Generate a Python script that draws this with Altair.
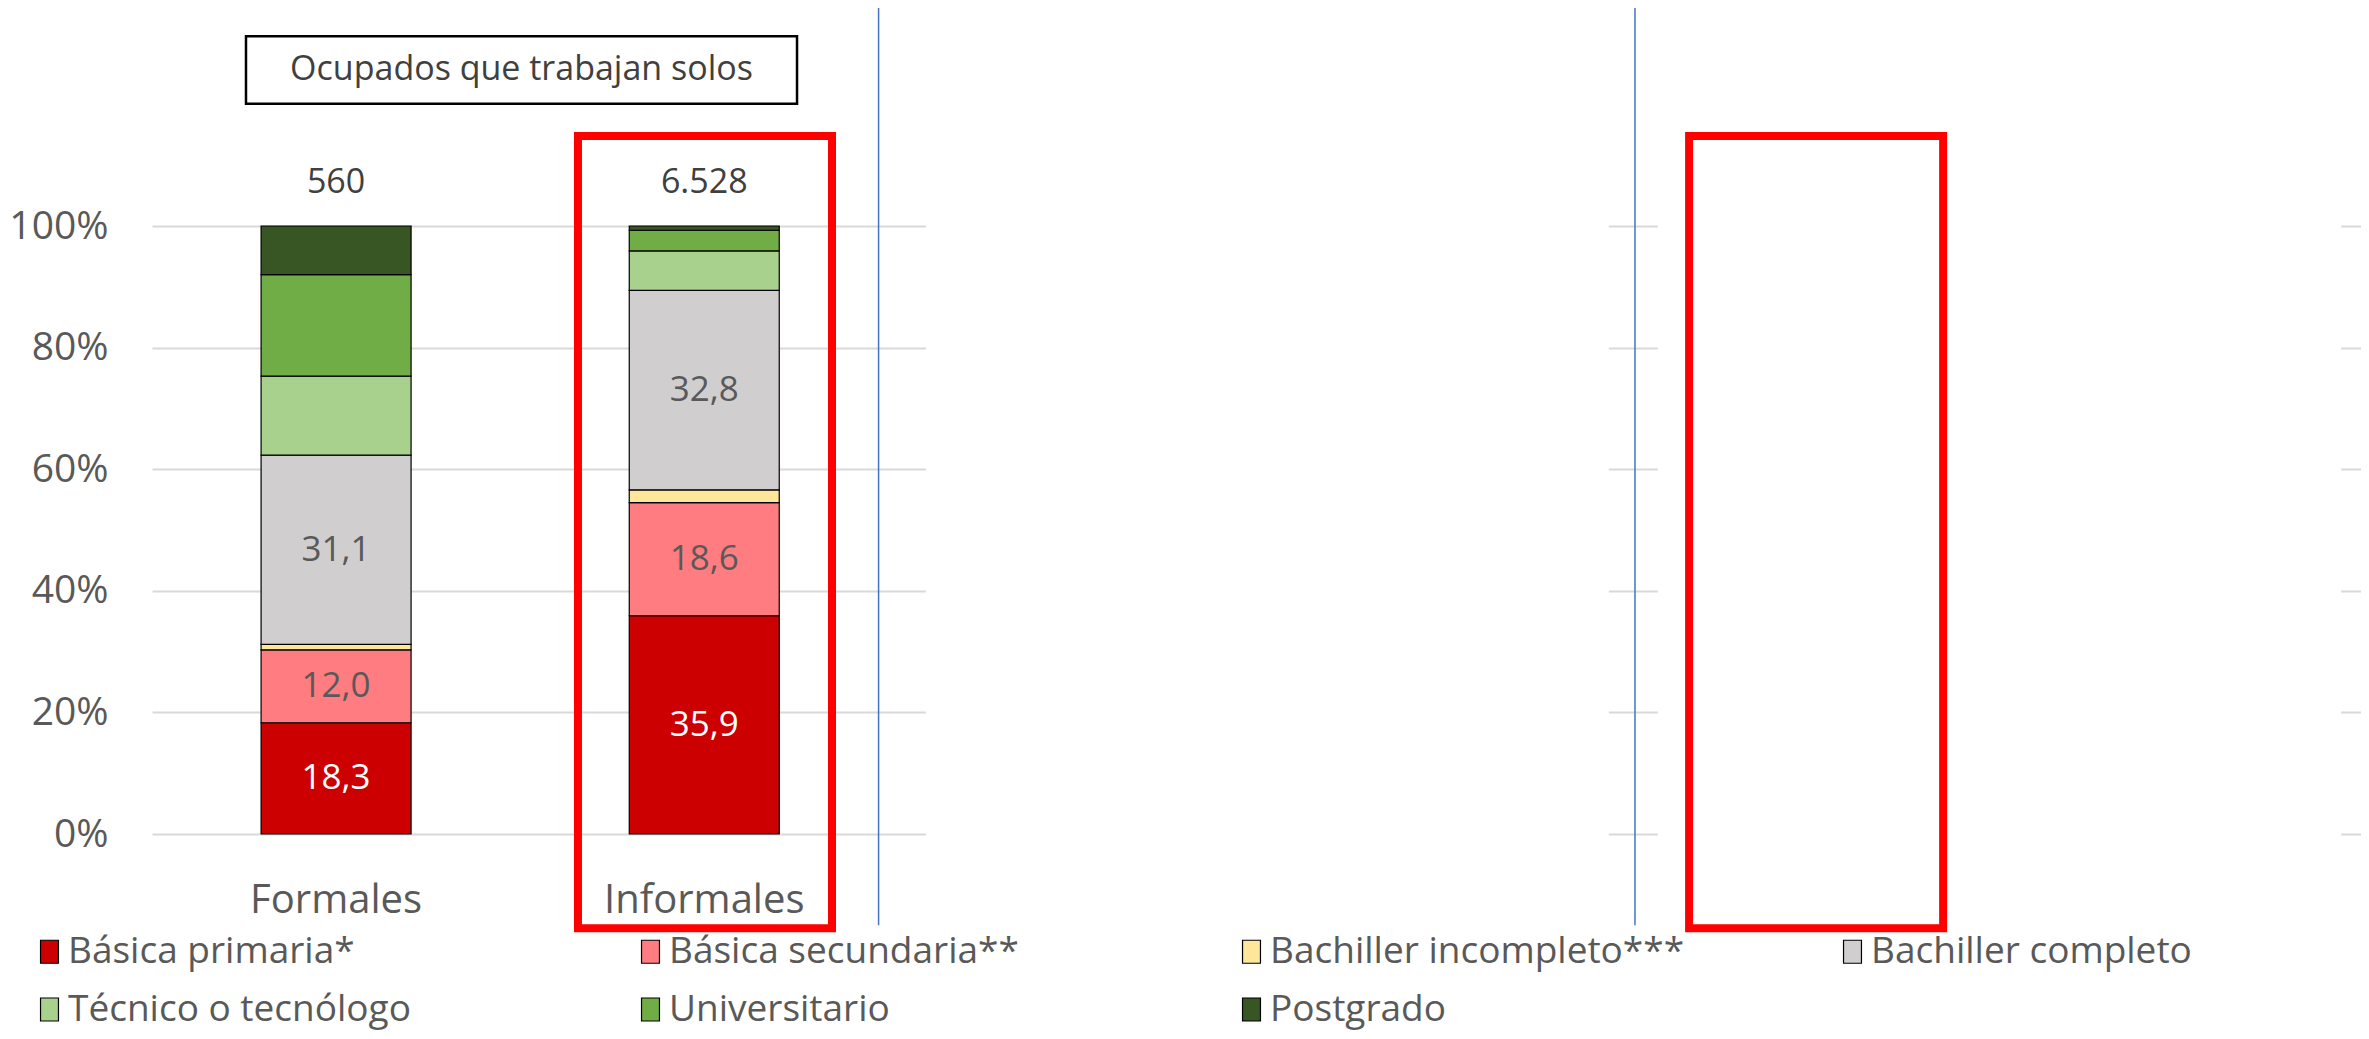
import altair as alt
import pandas as pd

FONT = "Open Sans"

# ---------------- data ----------------
grupos = ["Formales", "Informales"]
ranuras = grupos + ["_3", "_4", "_5", "_6"]          # hidden panels of the original sheet
niveles = ["Básica primaria*", "Básica secundaria**", "Bachiller incompleto***",
           "Bachiller completo", "Técnico o tecnólogo", "Universitario", "Postgrado"]
colores = ["#CC0000", "#FF7C80", "#FFE699", "#D0CECE", "#A9D18E", "#70AD47", "#375623"]
formales = [18.3, 12.0, 0.9, 31.1, 13.0, 16.7, 8.0]
informales = [35.9, 18.6, 2.1, 32.8, 6.5, 3.4, 0.7]
totales = [560, 6528]
rotulados = ["Básica primaria*", "Básica secundaria**", "Bachiller completo"]
titulo = "Ocupados que trabajan solos"
ticks_y = [0, 20, 40, 60, 80, 100]

# annotation extents (x in panel-slot units 0..6, y in %)
caja_titulo_x = [0.2553, 1.752]
caja_titulo_y = [120.1, 131.2]
recuadro_x1 = [1.157, 4.175]
recuadro_x2 = [1.847, 4.865]
recuadro_y = [-15.5, 114.8]
separador_x = [1.9735, 4.028]
separador_y = [-15.0, 136.3]
tapa_x1 = [2.102, 4.090]
tapa_x2 = [3.957, 5.946]
tapa_y = [-3, 103]
y_totales = 107

# ---------------- tables ----------------
rows = []
for g, vals in zip(grupos, [formales, informales]):
    acc = 0.0
    for i, (n, v) in enumerate(zip(niveles, vals)):
        rows.append(dict(grupo=g, nivel=n, orden=i, valor=v, y0=acc, y1=acc + v,
                         ymid=acc + v / 2,
                         etiqueta=(f"{v:.1f}".replace(".", ",") if n in rotulados else "")))
        acc += v
df = pd.DataFrame(rows)

df_tot = pd.DataFrame({"grupo": grupos,
                       "txt": [f"{t:,}".replace(",", ".") for t in totales]})
df_caja = pd.DataFrame({"x1": [caja_titulo_x[0]], "x2": [caja_titulo_x[1]],
                        "y1": [caja_titulo_y[0]], "y2": [caja_titulo_y[1]], "txt": [titulo]})
df_rec = pd.DataFrame({"x1": recuadro_x1, "x2": recuadro_x2,
                       "y1": [recuadro_y[0]] * 2, "y2": [recuadro_y[1]] * 2})
df_sep = pd.DataFrame({"x": separador_x, "y1": [separador_y[0]] * 2, "y2": [separador_y[1]] * 2})
df_tapa = pd.DataFrame({"x1": tapa_x1, "x2": tapa_x2, "y1": [tapa_y[0]] * 2, "y2": [tapa_y[1]] * 2})

# ---------------- scales / axes ----------------
band = alt.Scale(domain=ranuras, paddingInner=0.5926, paddingOuter=0.2963)
xq = alt.Scale(domain=[0, 6], nice=False, zero=False)
ys = alt.Scale(domain=[0, 100], nice=False)

x_axis = alt.Axis(title=None, labelExpr="indexof(datum.label, '_') == 0 ? '' : datum.label",
                  labelFontSize=40, labelFont=FONT, labelColor="#595959", labelPadding=46,
                  labelLimit=400, ticks=False, tickSize=0, domain=False, grid=False,
                  labelAngle=0)
y_axis = alt.Axis(title=None, values=ticks_y, labelExpr="datum.value + '%'",
                  labelFontSize=39, labelFont=FONT, labelColor="#595959", labelPadding=44,
                  ticks=False, tickSize=0, domain=False, grid=True, gridColor="#D9D9D9",
                  gridWidth=2)

legend = alt.Legend(orient="none", legendX=-121, legendY=707, columns=4, direction="horizontal",
                    symbolType="M-0.78,-1H0.78V1H-0.78Z", symbolSize=529,
                    symbolStrokeColor="black", symbolStrokeWidth=1.2, symbolOpacity=1,
                    labelFontSize=37, labelFont=FONT, labelColor="#595959", labelLimit=800,
                    labelOffset=0, columnPadding=149, rowPadding=20, gridAlign="all",
                    title=None, padding=0)

xb = alt.X("grupo:N", scale=band, axis=None)


def yq(field):
    return alt.Y(field, scale=ys, axis=y_axis)


barras = alt.Chart(df).mark_bar(stroke="black", strokeWidth=1.2).encode(
    x=alt.X("grupo:N", scale=band, axis=x_axis),
    y=yq("y0:Q"), y2="y1:Q",
    color=alt.Color("nivel:N", scale=alt.Scale(domain=niveles, range=colores), legend=legend))

tapas = alt.Chart(df_tapa).mark_rect(fill="white").encode(
    x=alt.X("x1:Q", scale=xq, axis=None), x2="x2:Q", y=yq("y1:Q"), y2="y2:Q")

etiquetas = alt.Chart(df).transform_filter("datum.etiqueta != ''").mark_text(
    fontSize=35, font=FONT, baseline="middle", align="center").encode(
    x=xb, y=yq("ymid:Q"), text="etiqueta:N",
    color=alt.condition("datum.orden == 0", alt.value("white"), alt.value("#595959")))

tot = alt.Chart(df_tot).mark_text(fontSize=34, font=FONT, color="#404040",
                                  baseline="middle", align="center").encode(
    x=xb, y=alt.datum(y_totales), text="txt:N")

caja = alt.Chart(df_caja).mark_rect(fill="white", stroke="black", strokeWidth=2.5).encode(
    x=alt.X("x1:Q", scale=xq, axis=None), x2="x2:Q", y=yq("y1:Q"), y2="y2:Q")

caja_txt = alt.Chart(df_caja).transform_calculate(
    xm="(datum.x1 + datum.x2) / 2", ym="(datum.y1 + datum.y2) / 2").mark_text(
    fontSize=34, font=FONT, color="#404040", baseline="middle", align="center").encode(
    x=alt.X("xm:Q", scale=xq, axis=None), y=yq("ym:Q"), text="txt:N")

recuadros = alt.Chart(df_rec).mark_rect(fillOpacity=0, stroke="#FF0000", strokeWidth=8).encode(
    x=alt.X("x1:Q", scale=xq, axis=None), x2="x2:Q", y=yq("y1:Q"), y2="y2:Q")

separadores = alt.Chart(df_sep).mark_rule(color="#4472C4", strokeWidth=1.5).encode(
    x=alt.X("x:Q", scale=xq, axis=None), y=yq("y1:Q"), y2="y2:Q")

chart = alt.layer(barras, tapas, etiquetas, tot, caja, caja_txt, recuadros, separadores
                  ).resolve_scale(x="independent").properties(
    width=2209, height=608,
    autosize=alt.AutoSizeParams(type="none"),
    padding={"left": 144, "top": 218, "right": 0, "bottom": 197},
    background="white",
).configure_view(strokeWidth=0)

chart.save("out.html", embed_options={"renderer": "svg", "actions": False})
